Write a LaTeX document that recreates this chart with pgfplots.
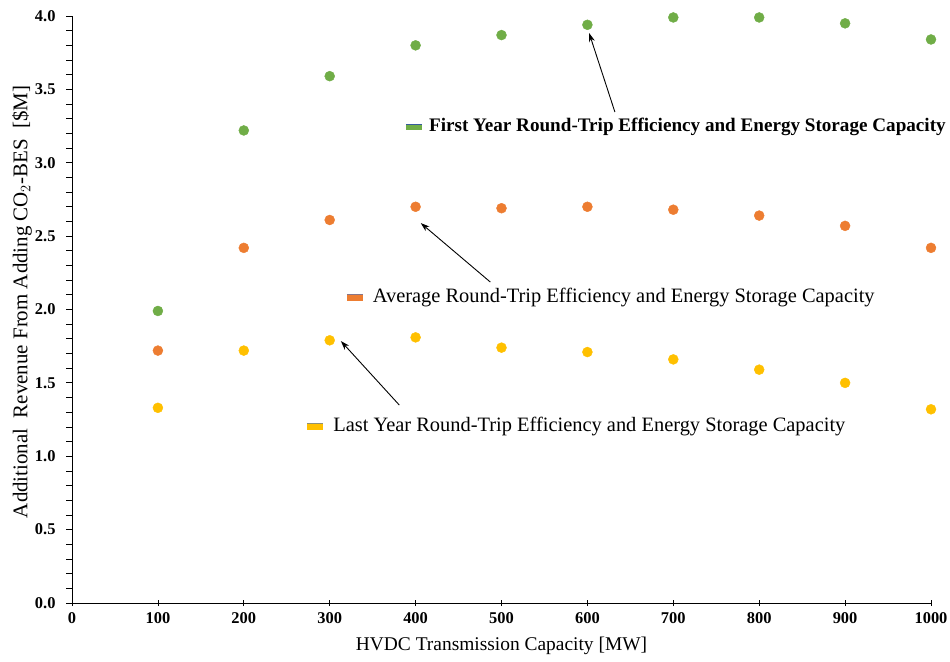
\documentclass[border=0pt]{standalone}
\usepackage{pgfplots}
\pgfplotsset{compat=1.18}
\usepackage{fontspec}
\setmainfont{Liberation Serif}
\usetikzlibrary{calc,arrows.meta}
\definecolor{cgreen}{HTML}{70AD47}
\definecolor{corange}{HTML}{ED7D31}
\definecolor{cyellow}{HTML}{FFC000}
\definecolor{cblue}{HTML}{4472C4}
\begin{document}
\begin{tikzpicture}[x=1bp,y=1bp]
\begin{axis}[
  name=ax,
  scale only axis,
  width=859bp, height=587bp,
  xmin=0, xmax=1000, ymin=0, ymax=4,
  axis lines=left,
  axis line style={-, line width=0.9pt},
  xtick={0,100,...,1000},
  ytick={0,0.5,...,4},
  minor y tick num=4,
  x tick style={line width=0.8pt, black},
  y tick style={line width=0.8pt, black},
  xtick align=center,
  ytick align=outside,
  major tick length=6bp,
  minor tick length=6bp,
  /pgf/number format/assume math mode=true,
  tick label style={font=\fontsize{16.5}{18}\selectfont\bfseries},
  yticklabel style={/pgf/number format/fixed, /pgf/number format/fixed zerofill, /pgf/number format/precision=1, xshift=-7bp},
  xticklabel style={/pgf/number format/fixed, /pgf/number format/1000 sep={}, yshift=-3bp},
  xlabel={HVDC Transmission Capacity [MW]},
  ylabel={Additional\ \ Revenue From Adding CO$_2$-BES\ \ [\$M]},
  xlabel style={font=\fontsize{19.5}{21}\selectfont, at={(rel axis cs:0.5,0)}, anchor=center, yshift=-43bp},
  every axis y label/.style={font=\fontsize{21}{23}\selectfont, at={(rel axis cs:0,0.513)}, rotate=90, anchor=center, yshift=50bp},
  clip=false,
]
\addplot[only marks, mark=*, mark size=5bp, mark options={draw=cgreen, fill=cgreen}] coordinates {
(100,1.99) (200,3.22) (300,3.59) (400,3.80) (500,3.87) (600,3.94) (700,3.99) (800,3.99) (900,3.95) (1000,3.84)};
\addplot[only marks, mark=*, mark size=5bp, mark options={draw=corange, fill=corange}] coordinates {
(100,1.72) (200,2.42) (300,2.61) (400,2.70) (500,2.69) (600,2.70) (700,2.68) (800,2.64) (900,2.57) (1000,2.42)};
\addplot[only marks, mark=*, mark size=5bp, mark options={draw=cyellow, fill=cyellow}] coordinates {
(100,1.33) (200,1.72) (300,1.79) (400,1.81) (500,1.74) (600,1.71) (700,1.66) (800,1.59) (900,1.50) (1000,1.32)};
% annotations
\draw[-{Stealth[length=9bp,width=6bp]}, line width=0.9pt] (axis cs:632,3.346) -- (axis cs:602,3.884);
\draw[-{Stealth[length=9bp,width=6bp]}, line width=0.9pt] (axis cs:487,2.187) -- (axis cs:406,2.589);
\draw[-{Stealth[length=9bp,width=6bp]}, line width=0.9pt] (axis cs:381,1.349) -- (axis cs:313,1.785);
\fill[cgreen] (axis cs:389,3.22) rectangle (axis cs:408,3.262);
\draw[cblue!80!black, line width=0.7pt] (axis cs:389,3.262) -- (axis cs:408,3.262);
\fill[corange] (axis cs:320,2.061) rectangle (axis cs:339,2.103);
\draw[cblue!60!corange, line width=0.7pt] (axis cs:320,2.103) -- (axis cs:339,2.103);
\fill[cyellow] (axis cs:274,1.182) rectangle (axis cs:292,1.224);
\draw[cblue!60!cyellow, line width=0.7pt] (axis cs:274,1.224) -- (axis cs:292,1.224);
\node[anchor=west, inner sep=0pt, font=\fontsize{19.2}{21}\selectfont\bfseries] at (axis cs:415.5,3.244) {First Year Round-Trip Efficiency and Energy Storage Capacity};
\node[anchor=west, inner sep=0pt, font=\fontsize{20.5}{22}\selectfont] at (axis cs:350,2.085) {Average Round-Trip Efficiency and Energy Storage Capacity};
\node[anchor=west, inner sep=0pt, font=\fontsize{20.5}{22}\selectfont] at (axis cs:304,1.206) {Last Year Round-Trip Efficiency and Energy Storage Capacity};
\end{axis}
\pgfresetboundingbox
\path ($(ax.south west)+(-72bp,-59bp)$) rectangle ($(ax.north east)+(19bp,16bp)$);
\end{tikzpicture}
\end{document}
